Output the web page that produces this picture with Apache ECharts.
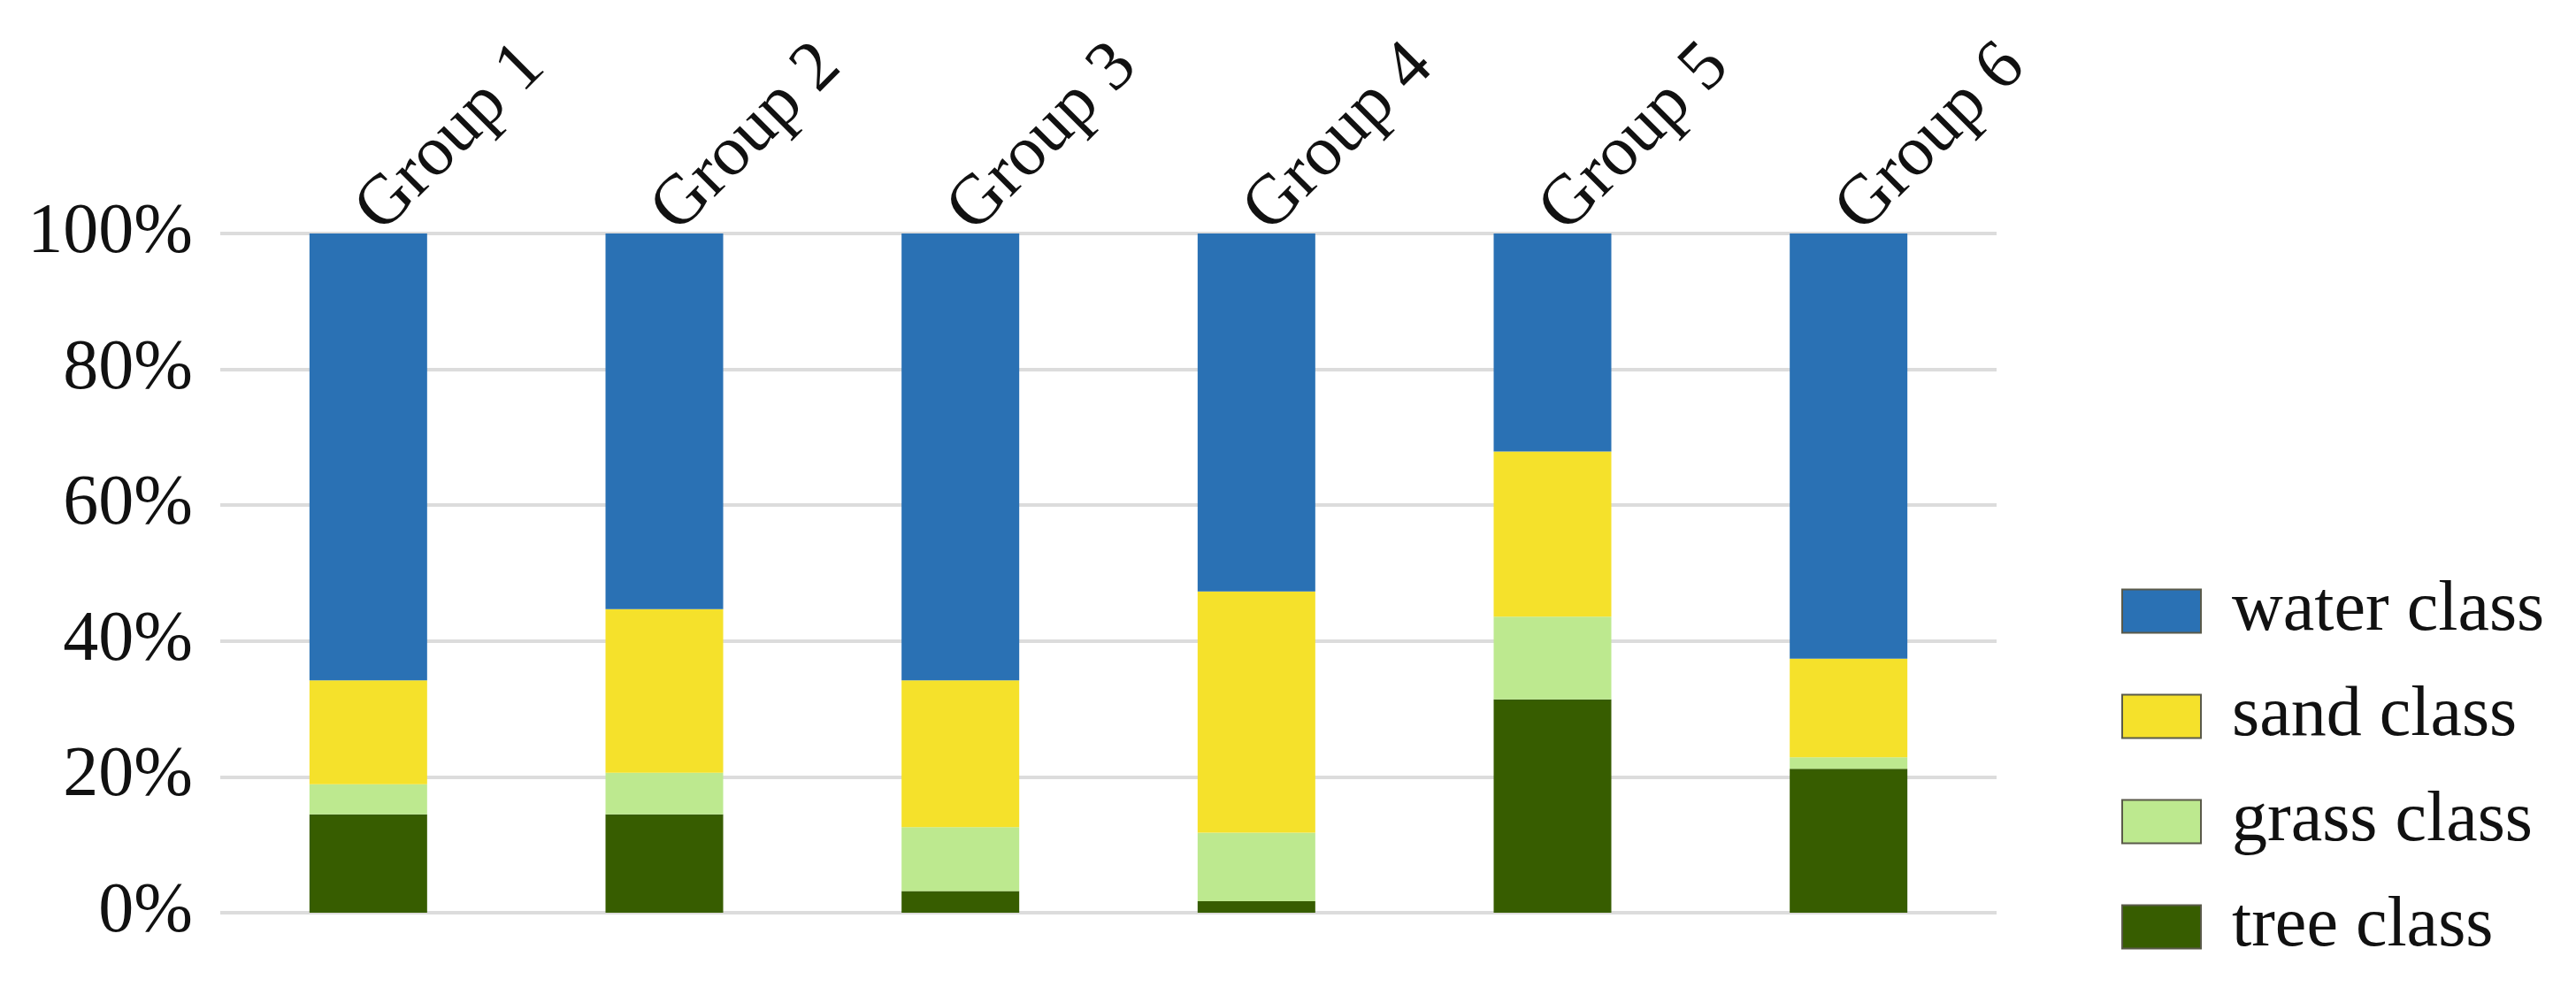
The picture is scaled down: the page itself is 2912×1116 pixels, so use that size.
<!DOCTYPE html>
<html>
<head>
<meta charset="utf-8">
<script src="https://cdn.jsdelivr.net/npm/echarts@6/dist/echarts.min.js"></script>
<style>
html,body{margin:0;padding:0;background:#fff;}
#chart{width:2912px;height:1116px;}
</style>
</head>
<body>
<div id="chart"></div>
<script>
const categories = ['Group 1', 'Group 2', 'Group 3', 'Group 4', 'Group 5', 'Group 6'];
const treeClass  = [14.5, 14.5, 3.2, 1.7, 31.4, 21.2];
const grassClass = [4.4, 6.1, 9.4, 10.1, 12.2, 1.7];
const sandClass  = [15.3, 24.1, 21.6, 35.5, 24.3, 14.5];
const waterClass = [65.8, 55.3, 65.8, 52.7, 32.1, 62.6];
const yTicks = [0, 20, 40, 60, 80, 100];

const FONT = '"Liberation Serif", "Times New Roman", serif';
const chart = echarts.init(document.getElementById('chart'), null, {renderer: 'canvas'});

function bar(name, data, color) {
  return {
    name: name,
    type: 'bar',
    stack: 'total',
    data: data,
    barWidth: 133,
    itemStyle: {color: color},
    emphasis: {disabled: true}
  };
}

chart.setOption({
  backgroundColor: '#ffffff',
  animation: false,
  grid: {left: 249, right: 655, top: 264, bottom: 84},
  xAxis: {
    type: 'category',
    position: 'top',
    data: categories,
    axisLine: {show: false},
    axisTick: {show: false},
    axisLabel: {
      rotate: 45,
      margin: 14,
      fontFamily: FONT,
      fontSize: 80,
      color: '#111'
    }
  },
  yAxis: {
    type: 'value',
    min: yTicks[0],
    max: yTicks[yTicks.length - 1],
    interval: yTicks[1] - yTicks[0],
    axisLine: {show: false},
    axisTick: {show: false},
    splitLine: {lineStyle: {color: '#dcdcdc', width: 4}},
    axisLabel: {
      formatter: '{value}%',
      margin: 31,
      fontFamily: FONT,
      fontSize: 80,
      color: '#111'
    }
  },
  legend: {
    orient: 'vertical',
    left: 2393,
    top: 646,
    itemWidth: 89,
    itemHeight: 49,
    itemGap: 39,
    icon: 'rect',
    data: ['water class', 'sand class', 'grass class', 'tree class'],
    itemStyle: {borderColor: '#5a5a4a', borderWidth: 2},
    textStyle: {
      fontFamily: FONT,
      fontSize: 80,
      lineHeight: 80,
      color: '#111',
      padding: [0, 0, 0, 30]
    }
  },
  series: [
    bar('tree class', treeClass, '#375d00'),
    bar('grass class', grassClass, '#bde98f'),
    bar('sand class', sandClass, '#f5e12b'),
    bar('water class', waterClass, '#2a71b4')
  ]
});
</script>
</body>
</html>
